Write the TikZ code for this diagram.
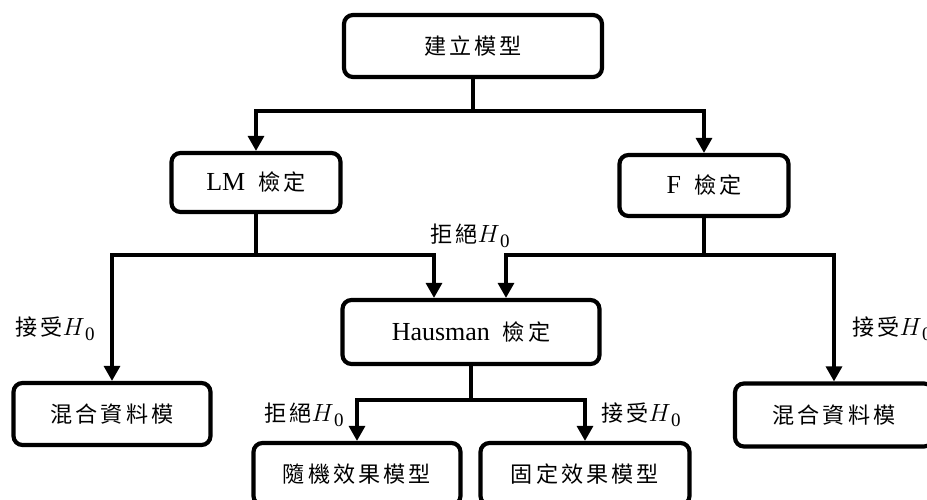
\documentclass[tikz,border=0pt]{standalone}
\usepackage{fontspec}
\setmainfont{Liberation Serif}
\newfontfamily\cjk[Scale=0.85,LetterSpace=14]{Noto Sans CJK TC}
\usetikzlibrary{arrows.meta}
\newcommand{\hnull}{$H$\kern0.5pt\raisebox{-5pt}{\fontsize{19}{20}\selectfont 0}}
\begin{document}
\begin{tikzpicture}[x=1pt,y=-1pt,
  box/.style={draw, line width=4.2pt, rounded corners=9pt, inner sep=0pt,
    font=\fontsize{26}{30}\selectfont},
  conn/.style={line width=3.2pt},
  arr/.style={conn, -{Triangle[width=16pt,length=15pt]}},
  lab/.style={inner sep=0pt, font=\fontsize{26}{30}\selectfont}]
\useasboundingbox (0,0) rectangle (927,500);
\clip (0,0) rectangle (927,500);
% boxes
\node[box, minimum width=258pt, minimum height=62pt] (top) at (473,46) {\cjk 建立模型};
\node[box, minimum width=169pt, minimum height=59pt] (lm) at (256,182.5) {LM\ \ {\cjk 檢定}};
\node[box, minimum width=169pt, minimum height=61pt] (f) at (704,185.5) {F\ \ {\cjk 檢定}};
\node[box, minimum width=257pt, minimum height=64pt] (haus) at (471,332) {Hausman\ \ {\cjk 檢定}};
\node[box, minimum width=197pt, minimum height=62pt] (mixL) at (112,414) {\cjk 混合資料模};
\node[box, minimum width=198pt, minimum height=63pt] (mixR) at (834,415) {\cjk 混合資料模};
\node[box, minimum width=207pt, minimum height=62pt] (rand) at (357,474) {\cjk 隨機效果模型};
\node[box, minimum width=209pt, minimum height=62pt] (fix) at (585,474) {\cjk 固定效果模型};
% junctions
\coordinate (j1) at (473,111);
\coordinate (j2) at (0,255);
\coordinate (j3) at (472,400);
% connectors
\draw[conn] (top.south) -- (top.south |- j1);
\draw[arr] (top.south |- j1) -| (lm.north);
\draw[arr] (top.south |- j1) -| (f.north);
\draw[conn] (lm.south) -- (lm.south |- j2);
\draw[arr] (lm.south |- j2) -| ([xshift=-37pt]haus.north);
\draw[arr] (lm.south |- j2) -| (mixL.north);
\draw[conn] (f.south) -- (f.south |- j2);
\draw[arr] (f.south |- j2) -| ([xshift=35pt]haus.north);
\draw[arr] (f.south |- j2) -| (mixR.north);
\draw[conn] (haus.south) -- (haus.south |- j3);
\draw[arr] (haus.south |- j3) -| (rand.north);
\draw[arr] (haus.south |- j3) -| (fix.north);
% labels
\node[lab] (l1) at (470,236) {{\cjk 拒絕}\hnull};
\node[lab] (l2) at (55,329) {{\cjk 接受}\hnull};
\node[lab, anchor=west] (l3) at (852,329) {{\cjk 接受}\hnull};
\node[lab] (l4) at (304,415) {{\cjk 拒絕}\hnull};
\node[lab] (l5) at (641,415) {{\cjk 接受}\hnull};
\end{tikzpicture}
\end{document}
